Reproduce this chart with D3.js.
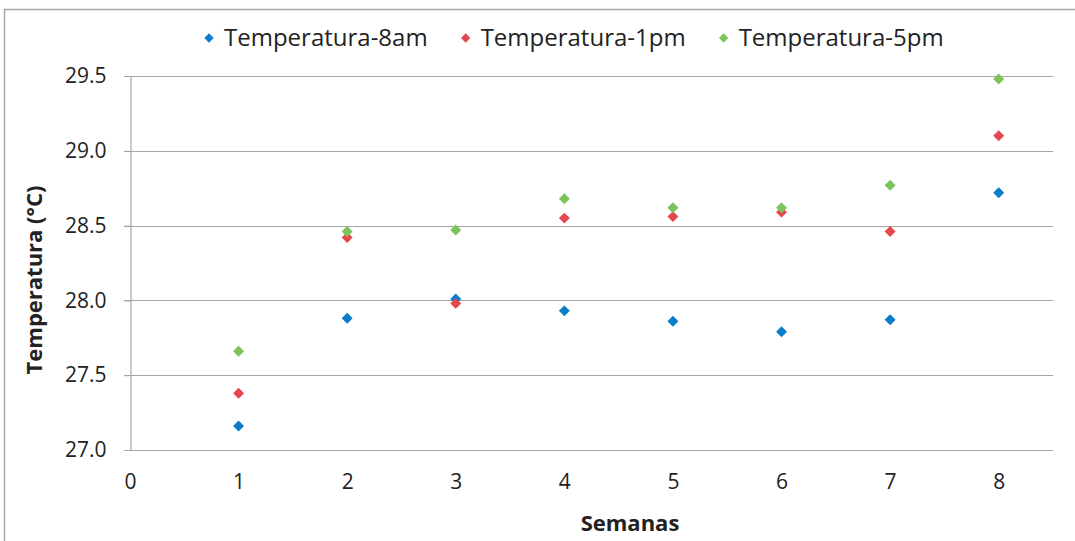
<!DOCTYPE html>
<html>
<head>
<meta charset="utf-8">
<title>Temperatura por semana</title>
<script src="https://d3js.org/d3.v7.min.js"></script>
<style>
  body { margin: 0; background: #fff; }
  text { font-family: 'Open Sans', 'Noto Sans', sans-serif; fill: #222; }
</style>
</head>
<body>
<svg id="chart" width="1075" height="541"></svg>
<script>
// data
var semanas = [1, 2, 3, 4, 5, 6, 7, 8];
var temp8am = [27.16, 27.88, 28.01, 27.93, 27.86, 27.79, 27.87, 28.72];
var temp1pm = [27.38, 28.42, 27.98, 28.55, 28.56, 28.59, 28.46, 29.10];
var temp5pm = [27.66, 28.46, 28.47, 28.68, 28.62, 28.62, 28.77, 29.48];
var seriesNames = ["Temperatura-8am", "Temperatura-1pm", "Temperatura-5pm"];
var colors = ["#0a7cc9", "#e5474f", "#7cc35b"];
var xTicks = [0, 1, 2, 3, 4, 5, 6, 7, 8];
var yTicks = [27.0, 27.5, 28.0, 28.5, 29.0, 29.5];

var series = [temp8am, temp1pm, temp5pm].map(function(vals, i) {
  return { name: seriesNames[i], color: colors[i],
           points: vals.map(function(v, j) { return { x: semanas[j], y: v }; }) };
});

var svg = d3.select("#chart");
// plot box (note: "top" is taken by window.top, so use other names)
var plotL = 130, plotR = 1053, plotT = 76, plotB = 450;

// outer chart frame
svg.append("path")
  .attr("d", "M4.5,541 L4.5,9.5 L1075,9.5")
  .attr("fill", "none").attr("stroke", "#a6a6a6").attr("stroke-width", 1.5);

var x = d3.scaleLinear().domain([0, 8.5]).range([plotL, plotR]);
var y = d3.scaleLinear().domain([27, 29.5]).range([plotB, plotT]);

// gridlines
svg.append("g").selectAll("line")
  .data(yTicks.slice(1))
  .enter().append("line")
  .attr("x1", plotL - 6).attr("x2", plotR)
  .attr("y1", function(d) { return Math.round(y(d)) + 0.5; })
  .attr("y2", function(d) { return Math.round(y(d)) + 0.5; })
  .attr("stroke", "#a6a6a6").attr("stroke-width", 1.2);

// y axis
var yAxis = svg.append("g")
  .attr("transform", "translate(" + (plotL + 0.5) + ",0)")
  .call(d3.axisLeft(y).tickValues(yTicks).tickFormat(d3.format(".1f")).tickSize(6).tickPadding(18));
yAxis.select(".domain").attr("stroke", "#a6a6a6").attr("stroke-width", 1.2);
yAxis.selectAll(".tick line").attr("stroke", "#a6a6a6");
yAxis.selectAll("text").style("font-size", "21px").attr("fill", "#222");

// x axis
var xAxis = svg.append("g")
  .attr("transform", "translate(0," + (plotB + 0.5) + ")")
  .call(d3.axisBottom(x).tickValues(xTicks).tickFormat(d3.format("d")).tickSize(0).tickPadding(24));
xAxis.select(".domain").attr("d", "M" + plotL + ",0H" + plotR)
  .attr("stroke", "#a6a6a6").attr("stroke-width", 1.2);
xAxis.selectAll("text").style("font-size", "21px").attr("fill", "#222");

// axis titles
svg.append("text")
  .attr("transform", "translate(42," + 280 + ") rotate(-90)")
  .attr("text-anchor", "middle")
  .style("font-size", "22px").style("font-weight", "bold")
  .text("Temperatura (°C)");

svg.append("text")
  .attr("x", 630).attr("y", 531)
  .attr("text-anchor", "middle")
  .style("font-size", "22px").style("font-weight", "bold")
  .text("Semanas");

// markers
var diamond = d3.symbol().type(d3.symbolSquare).size(60);
series.forEach(function(s) {
  svg.append("g").selectAll("path")
    .data(s.points)
    .enter().append("path")
    .attr("d", diamond)
    .attr("transform", function(d) { return "translate(" + x(d.x) + "," + y(d.y) + ") rotate(45)"; })
    .attr("fill", s.color);
});

// legend
var legend = svg.append("g").attr("transform", "translate(209,38)");
var lx = 0;
series.forEach(function(s) {
  var item = legend.append("g").attr("transform", "translate(" + lx + ",0)");
  item.append("path")
    .attr("d", d3.symbol().type(d3.symbolSquare).size(44))
    .attr("transform", "rotate(45)")
    .attr("fill", s.color);
  var t = item.append("text")
    .attr("x", 15).attr("y", 8)
    .style("font-size", "24px")
    .text(s.name);
  lx += 15 + t.node().getComputedTextLength() + 38;
});
</script>
</body>
</html>
